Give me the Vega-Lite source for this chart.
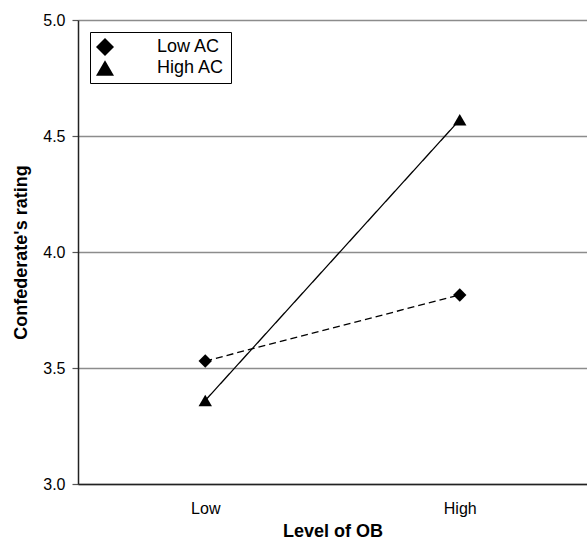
{
  "$schema": "https://vega.github.io/schema/vega-lite/v6.json",
  "width": 509,
  "height": 464,
  "autosize": {"type": "none"},
  "padding": {"left": 78, "top": 20, "right": 0, "bottom": 59},
  "background": "white",
  "config": {
    "font": "Liberation Sans",
    "view": {"stroke": null},
    "legend": {
      "title": null,
      "orient": "top-left",
      "offset": 12,
      "padding": 6,
      "strokeColor": "black",
      "fillColor": "white",
      "cornerRadius": 0,
      "symbolSize": 324,
      "labelOffset": 43,
      "labelFontSize": 18,
      "labelColor": "black",
      "rowPadding": 3,
      "symbolStrokeWidth": 0,
      "symbolFillColor": "black",
      "symbolOpacity": 1
    }
  },
  "data": {
    "values": [
      {"ob": "Low", "ac": "Low AC", "rating": 3.53},
      {"ob": "High", "ac": "Low AC", "rating": 3.815},
      {"ob": "Low", "ac": "High AC", "rating": 3.36},
      {"ob": "High", "ac": "High AC", "rating": 4.57}
    ]
  },
  "encoding": {
    "x": {
      "field": "ob",
      "type": "ordinal",
      "sort": ["Low", "High"],
      "scale": {"type": "point", "padding": 0.5},
      "axis": {
        "title": "Level of OB",
        "titleFontSize": 18,
        "titleFontWeight": "bold",
        "titleColor": "black",
        "titlePadding": 6,
        "labelFontSize": 16,
        "labelColor": "black",
        "labelAngle": 0,
        "labelPadding": 16,
        "ticks": false,
        "tickSize": 0,
        "grid": false,
        "domainColor": "#222",
        "domainWidth": 1.5,
        "zindex": 1
      }
    },
    "y": {
      "field": "rating",
      "type": "quantitative",
      "scale": {"domain": [3, 5], "nice": false, "zero": false},
      "axis": {
        "title": "Confederate's rating",
        "titleFontSize": 18,
        "titleFontWeight": "bold",
        "titleColor": "black",
        "titlePadding": 12,
        "values": [3, 3.5, 4, 4.5, 5],
        "format": ".1f",
        "labelFontSize": 16,
        "labelColor": "black",
        "labelPadding": 7,
        "tickSize": 6,
        "tickColor": "#555",
        "tickWidth": 1.2,
        "grid": true,
        "gridColor": "#8c8c8c",
        "gridWidth": 1.5,
        "domainColor": "#222",
        "domainWidth": 1.5
      }
    }
  },
  "layer": [
    {
      "mark": {"type": "line", "color": "black", "strokeWidth": 1.3},
      "encoding": {
        "strokeDash": {
          "field": "ac",
          "type": "nominal",
          "scale": {"domain": ["Low AC", "High AC"], "range": [[7, 4], [1, 0]]}
        }
      }
    },
    {
      "mark": {"type": "point", "filled": true, "color": "black", "opacity": 1, "size": 180},
      "encoding": {
        "shape": {
          "field": "ac",
          "type": "nominal",
          "scale": {"domain": ["Low AC", "High AC"], "range": ["diamond", "triangle-up"]}
        }
      }
    }
  ]
}
